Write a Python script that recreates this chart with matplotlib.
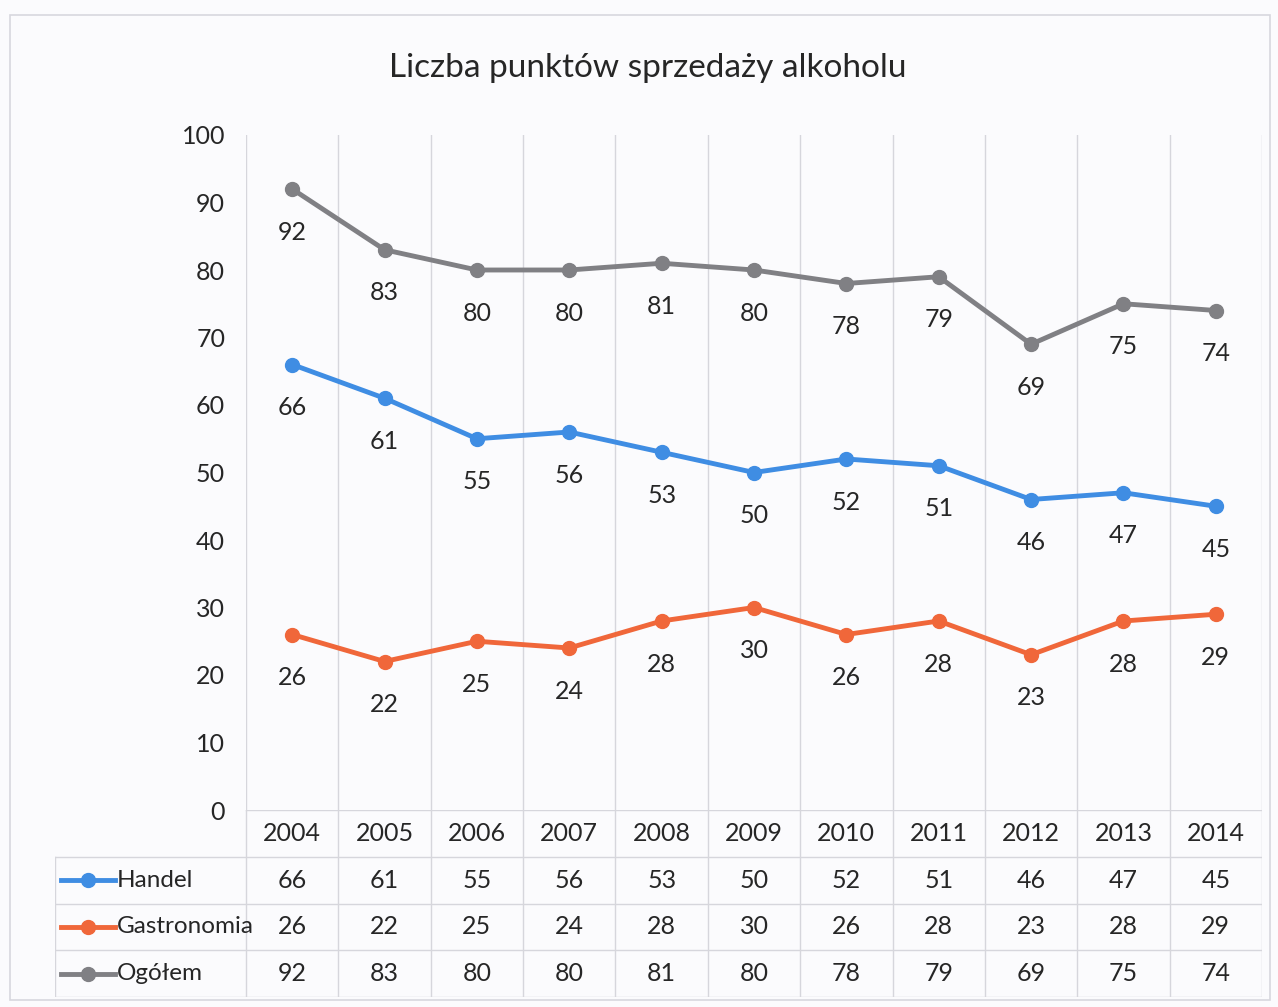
import matplotlib as mpl
mpl.use("Agg")
import matplotlib.pyplot as plt

years = ["2004", "2005", "2006", "2007", "2008", "2009", "2010", "2011", "2012", "2013", "2014"]
handel = [66, 61, 55, 56, 53, 50, 52, 51, 46, 47, 45]
gastronomia = [26, 22, 25, 24, 28, 30, 26, 28, 23, 28, 29]
ogolem = [92, 83, 80, 80, 81, 80, 78, 79, 69, 75, 74]

series = [
    ("Handel", handel, "#3F8DE3"),
    ("Gastronomia", gastronomia, "#F0673A"),
    ("Ogółem", ogolem, "#808084"),
]

plt.rcParams["font.family"] = ["Lato", "DejaVu Sans"]
TXT = "#262626"
GRID = "#D6D6DC"
FS = 18

W, H = 1278, 1007
fig = plt.figure(figsize=(W / 100, H / 100), dpi=100)
fig.patch.set_facecolor("#FBFBFD")

# outer chart border
fig.add_artist(plt.Rectangle((10 / W, 1 - 1000 / H), 1260 / W, 985 / H,
                             transform=fig.transFigure, fill=False,
                             edgecolor="#D8D8DE", lw=1.2))

x0, x1 = 246, 1262
ytop, ybot = 135, 810
ax = fig.add_axes([x0 / W, 1 - ybot / H, (x1 - x0) / W, (ybot - ytop) / H])
ax.set_facecolor("none")
n = len(years)
xs = list(range(n))
ax.set_xlim(-0.5, n - 0.5)
ax.set_ylim(0, 100)
ax.set_yticks(range(0, 101, 10))
ax.tick_params(axis="y", length=0, labelsize=FS, colors=TXT, pad=15)
ax.set_xticks([])
for s in ax.spines.values():
    s.set_visible(False)
for i in range(n + 1):
    ax.axvline(i - 0.5, color=GRID, lw=1, zorder=0)

for name, vals, col in series:
    ax.plot(xs, vals, color=col, lw=3.5, marker="o", ms=10, zorder=3)
    for x, v in zip(xs, vals):
        ax.annotate(str(v), (x, v), xytext=(0, -31), textcoords="offset points",
                    ha="center", va="center", fontsize=FS, color=TXT)

fig.text(648 / W, 1 - 68 / H, "Liczba punktów sprzedaży alkoholu",
         ha="center", va="center", fontsize=24, color=TXT)

# data table below the plot
tl, tt, tb = 55, 810, 997
tax = fig.add_axes([tl / W, 1 - tb / H, (x1 - tl) / W, (tb - tt) / H])
tax.set_facecolor("none")
left = -0.5 - (x0 - tl) / ((x1 - x0) / n)
tax.set_xlim(left, n - 0.5)
tax.set_ylim(4, 0)
tax.axis("off")
for i in range(n + 1):
    tax.plot([i - 0.5, i - 0.5], [0, 4], color=GRID, lw=1)
tax.plot([-0.5, n - 0.5], [0, 0], color=GRID, lw=1)
for r in range(1, 5):
    tax.plot([left, n - 0.5], [r, r], color=GRID, lw=1)
tax.plot([left, left], [1, 4], color=GRID, lw=1)

for i, yr in enumerate(years):
    tax.text(i, 0.5, yr, ha="center", va="center", fontsize=FS, color=TXT)
for r, (name, vals, col) in enumerate(series, start=1):
    lx = left + 0.07
    tax.plot([lx, lx + 0.58], [r + 0.5, r + 0.5], color=col, lw=3.5)
    tax.plot([lx + 0.29], [r + 0.5], "o", color=col, ms=10)
    tax.text(lx + 0.6, r + 0.5, name, ha="left", va="center", fontsize=17.5, color=TXT)
    for i, v in enumerate(vals):
        tax.text(i, r + 0.5, str(v), ha="center", va="center", fontsize=FS, color=TXT)

fig.savefig("out.png", dpi=100, facecolor=fig.get_facecolor())
